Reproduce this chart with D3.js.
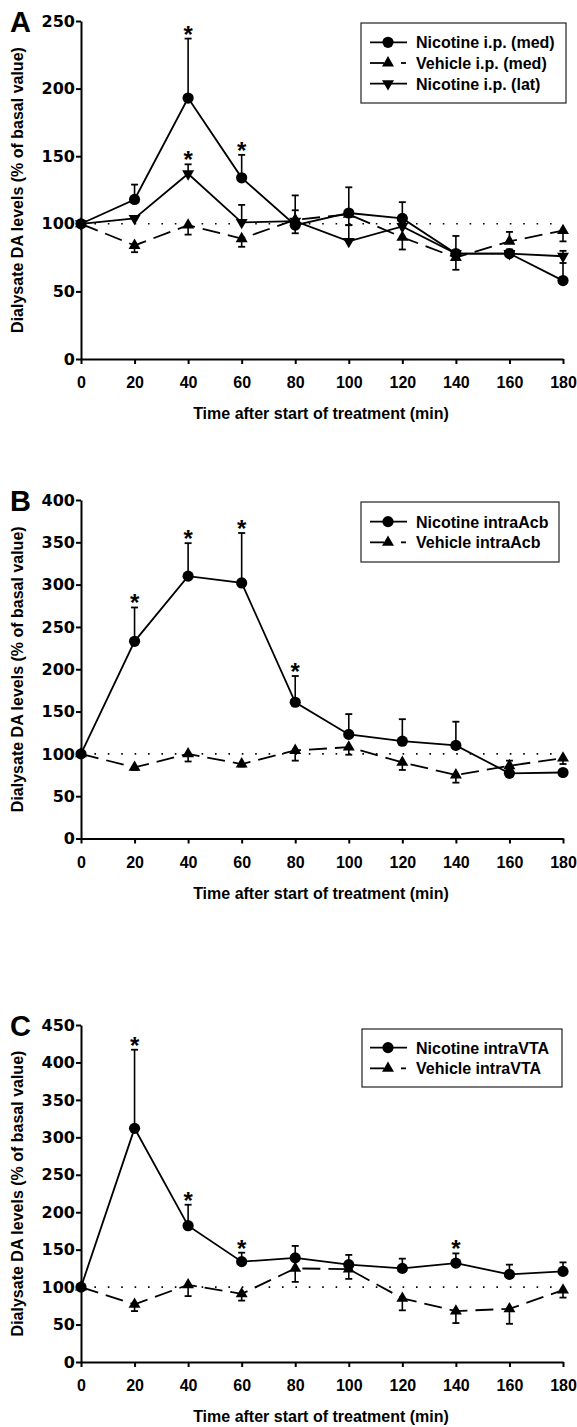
<!DOCTYPE html>
<html>
<head>
<meta charset="utf-8">
<script src="https://cdn.jsdelivr.net/npm/d3@7/dist/d3.min.js"></script>
<style>
  body { margin: 0; background: #fff; }
  svg { display: block; }
</style>
</head>
<body>
<svg id="chart" width="577" height="1427"></svg>
<script>
// time points (min)
const times = [0, 20, 40, 60, 80, 100, 120, 140, 160, 180];

// panel A
const nicMedA = [100, 118, 193, 134, 99, 108, 104, 78, 78, 58];
const nicMedErrA = [0, 11, 44, 17, 22, 19, 12, 13, 3, 13];
const vehMedA = [100, 84, 99, 89, 103, 107, 90, 75, 87, 95];
const vehMedErrA = [0, -5, -7, -6, -10, -8, -9, -9, 7, -8];
const nicLatA = [100, 104, 137, 101, 102, 87, 98, 78, 78, 76];
const nicLatErrA = [0, 0, 7, 13, 8, 12, 0, 0, 0, 4];
const starsNicMedA = [40, 60];
const starsNicLatA = [40];

// panel B
const nicB = [100, 233, 310, 302, 161, 123, 115, 110, 77, 78];
const nicErrB = [0, 40, 39, 59, 31, 24, 26, 28, 0, 0];
const vehB = [100, 84, 100, 88, 104, 108, 90, 75, 86, 95];
const vehErrB = [0, -3, -9, -3, -12, -9, -9, -9, 6, -7];
const starsNicB = [20, 40, 60, 80];

// panel C
const nicC = [100, 312, 182, 134, 139, 130, 125, 132, 117, 121];
const nicErrC = [0, 105, 28, 12, 16, 13, 13, 13, 13, 12];
const vehC = [100, 77, 103, 91, 125, 124, 85, 68, 71, 96];
const vehErrC = [0, -9, -15, -9, -18, -13, -16, -16, -20, -10];
const starsNicC = [20, 40, 60, 140];

const yTitle = "Dialysate DA levels (% of basal value)";
const xTitle = "Time after start of treatment (min)";

const svg = d3.select("#chart");
svg.append("rect").attr("width", 577).attr("height", 1427).attr("fill", "#fff");

const bold = "'Liberation Sans', Arial, sans-serif";
const wide = "'DejaVu Sans', sans-serif";

const panels = [
    {
        label: "A", top: 21, bottom: 359, yMax: 250,
        legend: {x: 361, y: 23, w: 205, h: 80},
        series: [
            {name: "Nicotine i.p. (med)", vals: nicMedA, errs: nicMedErrA, marker: "circle", dashed: false, stars: starsNicMedA},
            {name: "Vehicle i.p. (med)", vals: vehMedA, errs: vehMedErrA, marker: "tri", dashed: true, stars: []},
            {name: "Nicotine i.p. (lat)", vals: nicLatA, errs: nicLatErrA, marker: "down", dashed: false, stars: starsNicLatA}
        ]
    },
    {
        label: "B", top: 500, bottom: 838.5, yMax: 400,
        legend: {x: 361, y: 502, w: 198, h: 60},
        series: [
            {name: "Nicotine intraAcb", vals: nicB, errs: nicErrB, marker: "circle", dashed: false, stars: starsNicB},
            {name: "Vehicle intraAcb", vals: vehB, errs: vehErrB, marker: "tri", dashed: true, stars: []}
        ]
    },
    {
        label: "C", top: 1025, bottom: 1362, yMax: 450,
        legend: {x: 362, y: 1029, w: 200, h: 58},
        series: [
            {name: "Nicotine intraVTA", vals: nicC, errs: nicErrC, marker: "circle", dashed: false, stars: starsNicC},
            {name: "Vehicle intraVTA", vals: vehC, errs: vehErrC, marker: "tri", dashed: true, stars: []}
        ]
    }
];

const x = d3.scaleLinear().domain([0, 180]).range([81, 563]);

panels.forEach(p => drawPanel(p));

function drawMarker(g, type, cx, cy) {
    if (type === "circle") {
        g.append("circle").attr("cx", cx).attr("cy", cy).attr("r", 5.6).attr("fill", "#000");
    } else {
        g.append("path")
            .attr("d", d3.symbol(d3.symbolTriangle, 62)())
            .attr("transform", `translate(${cx},${cy})` + (type === "down" ? " rotate(180)" : ""))
            .attr("fill", "#000");
    }
}

function drawPanel(p) {
    const y = d3.scaleLinear().domain([0, p.yMax]).range([p.bottom, p.top]);
    const g = svg.append("g");

    // y axis
    const yAxis = g.append("g")
        .attr("transform", `translate(${x(0)},0)`)
        .call(d3.axisLeft(y).ticks(p.yMax / 50).tickSize(5).tickSizeOuter(0).tickPadding(1));
    yAxis.select(".domain").attr("stroke-width", 2);
    yAxis.selectAll(".tick line").attr("stroke-width", 2);
    yAxis.selectAll(".tick text")
        .attr("font-family", wide).attr("font-weight", "bold").attr("font-size", 16)
        .attr("fill", "#000");

    // x axis
    const xAxis = g.append("g")
        .attr("transform", `translate(0,${p.bottom})`)
        .call(d3.axisBottom(x).tickValues(times).tickSize(5).tickSizeOuter(0));
    xAxis.select(".domain").attr("stroke-width", 2);
    xAxis.selectAll(".tick line").attr("stroke-width", 2);
    xAxis.selectAll(".tick text")
        .attr("y", 29).attr("dy", 0)
        .attr("font-family", bold).attr("font-weight", "bold").attr("font-size", 16)
        .attr("fill", "#000");

    // titles
    g.append("text")
        .attr("x", (x(0) + x(180)) / 2 - 1).attr("y", p.bottom + 60)
        .attr("text-anchor", "middle")
        .attr("font-family", bold).attr("font-weight", "bold").attr("font-size", 16)
        .text(xTitle);
    g.append("text")
        .attr("transform", `translate(23,${(p.top + p.bottom) / 2}) rotate(-90)`)
        .attr("text-anchor", "middle")
        .attr("font-family", bold).attr("font-weight", "bold").attr("font-size", 16)
        .text(yTitle);

    // panel letter
    g.append("text")
        .attr("x", 10).attr("y", p.top + 11)
        .attr("font-family", bold).attr("font-weight", "bold").attr("font-size", 29)
        .text(p.label);

    // basal line
    g.append("line")
        .attr("x1", x(0)).attr("x2", x(180))
        .attr("y1", y(100)).attr("y2", y(100))
        .attr("stroke", "#000").attr("stroke-width", 1.6)
        .attr("stroke-dasharray", "1.6,11.8");

    const line = d3.line().x((d, i) => x(times[i])).y(d => y(d));

    p.series.forEach(s => {
        // error bars
        s.vals.forEach((v, i) => {
            const e = s.errs[i];
            if (!e) return;
            const xi = x(times[i]);
            g.append("line")
                .attr("x1", xi).attr("x2", xi)
                .attr("y1", y(v)).attr("y2", y(v + e))
                .attr("stroke", "#000").attr("stroke-width", 1.6);
            g.append("line")
                .attr("x1", xi - 3.5).attr("x2", xi + 3.5)
                .attr("y1", y(v + e)).attr("y2", y(v + e))
                .attr("stroke", "#000").attr("stroke-width", 1.8);
        });

        g.append("path")
            .datum(s.vals)
            .attr("d", line)
            .attr("fill", "none")
            .attr("stroke", "#000")
            .attr("stroke-width", 1.8)
            .attr("stroke-dasharray", s.dashed ? "18,8" : null);

        s.vals.forEach((v, i) => drawMarker(g, s.marker, x(times[i]), y(v)));

        // significance stars
        s.stars.forEach(t => {
            const i = times.indexOf(t);
            const top = s.vals[i] + Math.max(0, s.errs[i]);
            g.append("text")
                .attr("x", x(t)).attr("y", y(top) + 4)
                .attr("text-anchor", "middle")
                .attr("font-family", bold).attr("font-weight", "bold").attr("font-size", 24)
                .text("*");
        });
    });

    // legend
    const L = p.legend;
    g.append("rect")
        .attr("x", L.x).attr("y", L.y).attr("width", L.w).attr("height", L.h)
        .attr("fill", "#fff").attr("stroke", "#222").attr("stroke-width", 1.2);
    const rowH = 20.7;
    const firstRow = L.y + (L.h - rowH * (p.series.length - 1)) / 2;
    p.series.forEach((s, k) => {
        const ry = firstRow + k * rowH;
        if (s.dashed) {
            g.append("line").attr("x1", 370).attr("x2", 384).attr("y1", ry).attr("y2", ry)
                .attr("stroke", "#000").attr("stroke-width", 1.8);
            g.append("line").attr("x1", 401).attr("x2", 406).attr("y1", ry).attr("y2", ry)
                .attr("stroke", "#000").attr("stroke-width", 1.8);
        } else {
            g.append("line").attr("x1", 370).attr("x2", 407).attr("y1", ry).attr("y2", ry)
                .attr("stroke", "#000").attr("stroke-width", 1.8);
        }
        drawMarker(g, s.marker, 388, ry);
        g.append("text")
            .attr("x", 416).attr("y", ry + 6)
            .attr("font-family", bold).attr("font-weight", "bold").attr("font-size", 16)
            .text(s.name);
    });
}
</script>
</body>
</html>
